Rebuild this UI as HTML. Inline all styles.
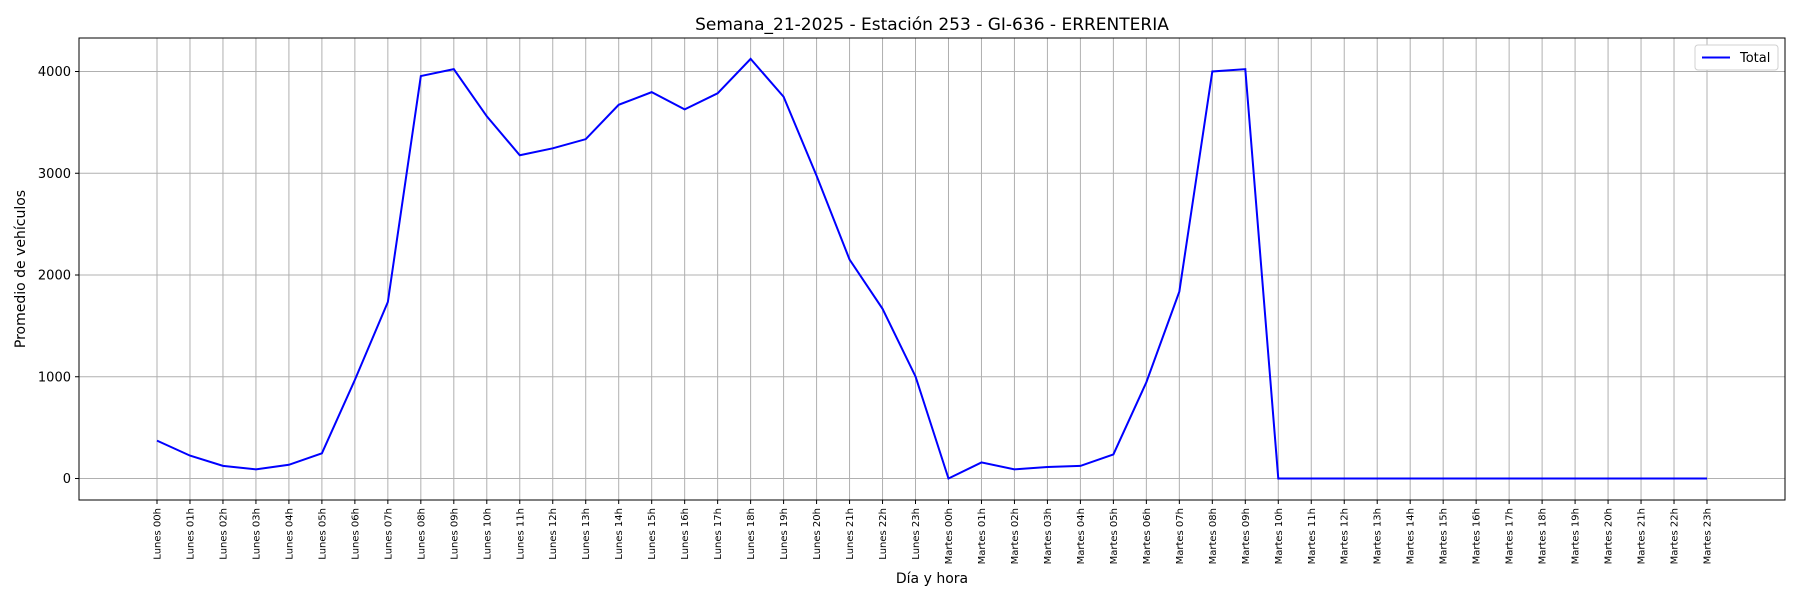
<!DOCTYPE html>
<html><head><meta charset="utf-8"><style>
body{margin:0;background:#fff;font-family:"Liberation Sans","DejaVu Sans",sans-serif}
svg text{font-family:"DejaVu Sans","Liberation Sans",sans-serif}
</style></head><body>
<svg id="c" width="1800" height="600"></svg>
<script>
const days=["Lunes","Martes"];
const hours=["00h","01h","02h","03h","04h","05h","06h","07h","08h","09h","10h","11h","12h","13h","14h","15h","16h","17h","18h","19h","20h","21h","22h","23h"];
const totalValues=[372,225,124,90,135,248,969,1735,3955,4023,3560,3177,3245,3335,3673,3797,3628,3786,4124,3752,2975,2152,1668,1003,
0,158,90,113,124,237,946,1837,4000,4023,0,0,0,0,0,0,0,0,0,0,0,0,0,0];
const yTicks=[0,1000,2000,3000,4000];
const categories=[];days.forEach(d=>hours.forEach(h=>categories.push(d+" "+h)));
const NS="http://www.w3.org/2000/svg",svg=document.getElementById("c");
function el(t,a,txt){const e=document.createElementNS(NS,t);for(const k in a)e.setAttribute(k,a[k]);if(txt!==undefined)e.textContent=txt;svg.appendChild(e);return e;}
const L=79,R=1785,T=38,B=500;
const x0=157,x1=1707;
const xs=i=>x0+(x1-x0)*i/(categories.length-1);
const y0=478.5,y4000=71.5;
const ys=v=>y0+(y4000-y0)*v/4000;
categories.forEach((c,i)=>{const g=el("line",{x1:xs(i),x2:xs(i),y1:T,y2:B,stroke:"#b0b0b0","stroke-width":1});

el("line",{x1:xs(i),x2:xs(i),y1:B,y2:B+4,stroke:"#000"});
const t=el("text",{x:0,y:0,"font-size":10,"text-anchor":"end",transform:`translate(${xs(i)+3.5},${B+8}) rotate(-90)`},c);
});
yTicks.forEach(v=>{const g=el("line",{x1:L,x2:R,y1:ys(v),y2:ys(v),stroke:"#b0b0b0","stroke-width":1});

el("line",{x1:L-4,x2:L,y1:ys(v),y2:ys(v),stroke:"#000"});
const t=el("text",{x:L-8,y:ys(v)+4.5,"font-size":13,"text-anchor":"end"},v);
});
const r=el("rect",{x:L,y:T,width:R-L,height:B-T,fill:"none",stroke:"#000","stroke-width":1});

const p=el("polyline",{points:totalValues.map((v,i)=>xs(i)+","+ys(v)).join(" "),fill:"none",stroke:"#0000ff","stroke-width":2});

const tt=el("text",{x:(L+R)/2,y:30,"font-size":17,"text-anchor":"middle"},"Semana_21-2025 - Estación 253 - GI-636  - ERRENTERIA");

const xt=el("text",{x:(L+R)/2,y:583,"font-size":14,"text-anchor":"middle"},"Día y hora");

const yt=el("text",{x:0,y:0,"font-size":14,"text-anchor":"middle",transform:`translate(25,${(T+B)/2}) rotate(-90)`},"Promedio de vehículos");

const lg=el("rect",{x:1695,y:45,width:83,height:25,fill:"#fff",stroke:"#d0d0d0",rx:3});

el("line",{x1:1702,x2:1730,y1:57.5,y2:57.5,stroke:"#0000ff","stroke-width":2});
const lt=el("text",{x:1740,y:62,"font-size":13},"Total");

</script>
</body></html>
